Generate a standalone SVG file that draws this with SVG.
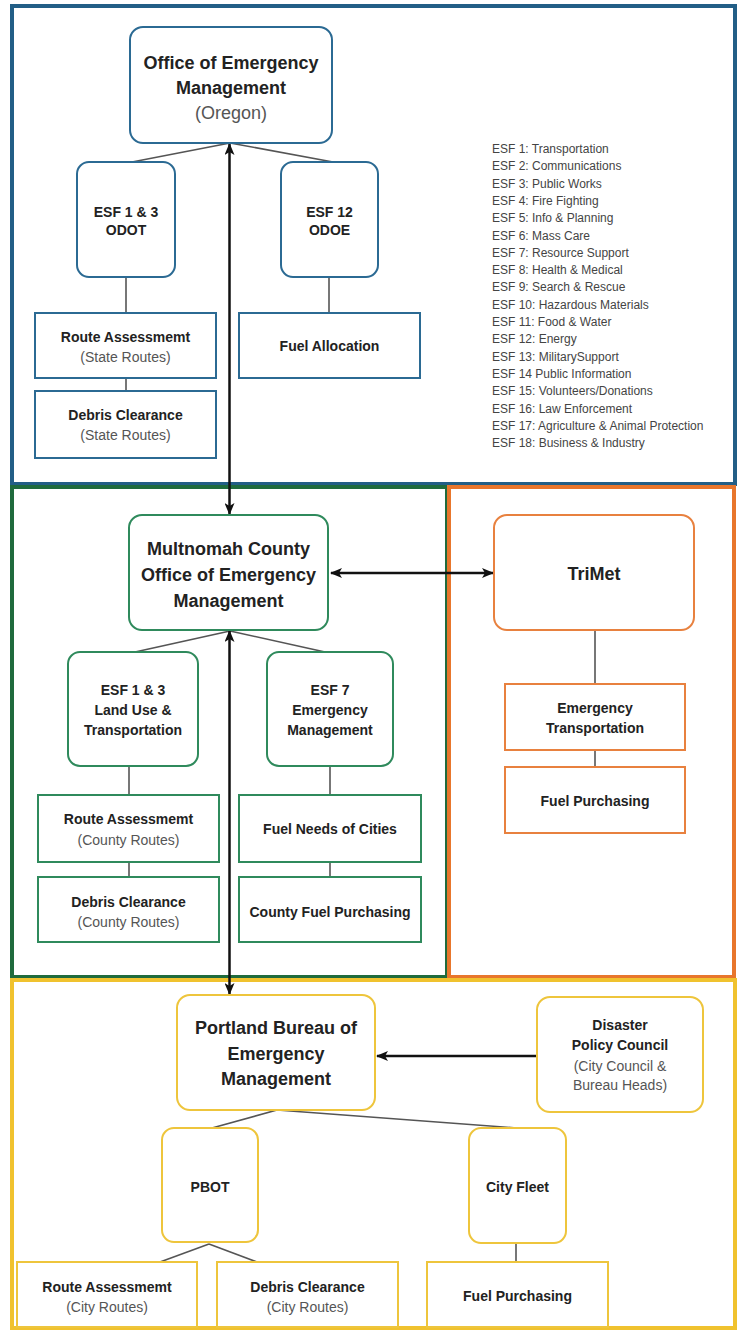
<svg xmlns="http://www.w3.org/2000/svg" width="740" height="1331" viewBox="0 0 740 1331">
<defs>
<marker id="ah" markerUnits="userSpaceOnUse" markerWidth="12" markerHeight="10" refX="11" refY="5" orient="auto-start-reverse">
<path d="M0,0 L12,5 L0,10 L3,5 Z" fill="#111"/>
</marker>
<style>
text{font-family:"Liberation Sans",Arial,sans-serif;text-anchor:middle;fill:#222}
.b{font-weight:bold}
.s{fill:#555;font-weight:normal}
.t18{font-size:18px}
.t14{font-size:14px}
.leg{font-size:12px;text-anchor:start;fill:#444}
.sec{fill:none;stroke-width:4}
.nb{fill:#fff;stroke:#2b6a93;stroke-width:2}
.ng{fill:#fff;stroke:#2f8a5c;stroke-width:2}
.no{fill:#fff;stroke:#e8813f;stroke-width:2}
.ny{fill:#fff;stroke:#eec53c;stroke-width:2}
.ln{stroke:#555;stroke-width:1.6;fill:none}
.ar{stroke:#111;stroke-width:2.5;fill:none}
</style>
</defs>

<g id="sections">
<rect class="sec" x="12" y="6" width="723" height="478" stroke="#225e86"/>
<rect class="sec" x="12" y="487" width="435" height="490" stroke="#1f6b3d"/>
<rect class="sec" x="449" y="487" width="285" height="490" stroke="#e8762c"/>
<rect class="sec" x="12" y="980" width="723" height="348" stroke="#f0c22e"/>
</g>

<g id="connectors">
<line class="ln" x1="230" y1="143" x2="132" y2="162"/>
<line class="ln" x1="230" y1="143" x2="333" y2="162"/>
<line class="ln" x1="126" y1="277" x2="126" y2="313"/>
<line class="ln" x1="126" y1="378" x2="126" y2="391"/>
<line class="ln" x1="329" y1="277" x2="329" y2="313"/>
<line class="ln" x1="230" y1="631" x2="135" y2="652"/>
<line class="ln" x1="230" y1="631" x2="325" y2="652"/>
<line class="ln" x1="129" y1="766" x2="129" y2="795"/>
<line class="ln" x1="129" y1="862" x2="129" y2="877"/>
<line class="ln" x1="330" y1="766" x2="330" y2="795"/>
<line class="ln" x1="330" y1="862" x2="330" y2="877"/>
<line class="ln" x1="595" y1="630" x2="595" y2="684"/>
<line class="ln" x1="595" y1="750" x2="595" y2="767"/>
<line class="ln" x1="277" y1="1110" x2="212" y2="1128"/>
<line class="ln" x1="277" y1="1110" x2="517" y2="1128"/>
<line class="ln" x1="209" y1="1244" x2="160" y2="1262"/>
<line class="ln" x1="209" y1="1244" x2="257" y2="1262"/>
<line class="ln" x1="516" y1="1243" x2="516" y2="1262"/>
<line class="ar" x1="229.5" y1="144" x2="229.5" y2="514" marker-start="url(#ah)" marker-end="url(#ah)"/>
<line class="ar" x1="229.5" y1="631" x2="229.5" y2="994" marker-start="url(#ah)" marker-end="url(#ah)"/>
<line class="ar" x1="331" y1="573" x2="493" y2="573" marker-start="url(#ah)" marker-end="url(#ah)"/>
<line class="ar" x1="537" y1="1056" x2="377" y2="1056" stroke-width="3.5" marker-end="url(#ah)"/>
</g>

<g id="legend">
<text class="leg" x="492" y="153">ESF 1: Transportation</text>
<text class="leg" x="492" y="170.3">ESF 2: Communications</text>
<text class="leg" x="492" y="187.6">ESF 3: Public Works</text>
<text class="leg" x="492" y="204.9">ESF 4: Fire Fighting</text>
<text class="leg" x="492" y="222.2">ESF 5: Info &amp; Planning</text>
<text class="leg" x="492" y="239.5">ESF 6: Mass Care</text>
<text class="leg" x="492" y="256.8">ESF 7: Resource Support</text>
<text class="leg" x="492" y="274.1">ESF 8: Health &amp; Medical</text>
<text class="leg" x="492" y="291.4">ESF 9: Search &amp; Rescue</text>
<text class="leg" x="492" y="308.7">ESF 10: Hazardous Materials</text>
<text class="leg" x="492" y="326">ESF 11: Food &amp; Water</text>
<text class="leg" x="492" y="343.3">ESF 12: Energy</text>
<text class="leg" x="492" y="360.6">ESF 13: MilitarySupport</text>
<text class="leg" x="492" y="377.9">ESF 14 Public Information</text>
<text class="leg" x="492" y="395.2">ESF 15: Volunteers/Donations</text>
<text class="leg" x="492" y="412.5">ESF 16: Law Enforcement</text>
<text class="leg" x="492" y="429.8">ESF 17: Agriculture &amp; Animal Protection</text>
<text class="leg" x="492" y="447.1">ESF 18: Business &amp; Industry</text>
</g>

<g id="oem-oregon">
<rect class="nb" x="130" y="27" width="202" height="116" rx="13"/>
<text class="b t18" x="231" y="68.5">Office of Emergency</text>
<text class="b t18" x="231" y="94">Management</text>
<text class="s t18" x="231" y="119">(Oregon)</text>
</g>
<g id="esf13-odot">
<rect class="nb" x="77" y="162" width="98" height="115" rx="12"/>
<text class="b t14" x="126" y="217">ESF 1 &amp; 3</text>
<text class="b t14" x="126" y="235">ODOT</text>
</g>
<g id="esf12-odoe">
<rect class="nb" x="281" y="162" width="97" height="115" rx="12"/>
<text class="b t14" x="329.5" y="217">ESF 12</text>
<text class="b t14" x="329.5" y="235">ODOE</text>
</g>
<g id="route-state">
<rect class="nb" x="35" y="313" width="181" height="65"/>
<text class="b t14" x="125.5" y="342">Route Assessmemt</text>
<text class="s t14" x="125.5" y="362">(State Routes)</text>
</g>
<g id="debris-state">
<rect class="nb" x="35" y="391" width="181" height="67"/>
<text class="b t14" x="125.5" y="420">Debris Clearance</text>
<text class="s t14" x="125.5" y="440">(State Routes)</text>
</g>
<g id="fuel-allocation">
<rect class="nb" x="239" y="313" width="181" height="65"/>
<text class="b t14" x="329.5" y="351">Fuel Allocation</text>
</g>

<g id="multnomah">
<rect class="ng" x="129" y="515" width="199" height="115" rx="13"/>
<text class="b t18" x="228.5" y="554.5">Multnomah County</text>
<text class="b t18" x="228.5" y="581">Office of Emergency</text>
<text class="b t18" x="228.5" y="606.5">Management</text>
</g>
<g id="esf13-landuse">
<rect class="ng" x="68" y="652" width="130" height="114" rx="12"/>
<text class="b t14" x="133" y="695">ESF 1 &amp; 3</text>
<text class="b t14" x="133" y="715">Land Use &amp;</text>
<text class="b t14" x="133" y="735">Transportation</text>
</g>
<g id="esf7">
<rect class="ng" x="267" y="652" width="126" height="114" rx="12"/>
<text class="b t14" x="330" y="695">ESF 7</text>
<text class="b t14" x="330" y="715">Emergency</text>
<text class="b t14" x="330" y="735">Management</text>
</g>
<g id="route-county">
<rect class="ng" x="38" y="795" width="181" height="67"/>
<text class="b t14" x="128.5" y="824">Route Assessmemt</text>
<text class="s t14" x="128.5" y="845">(County Routes)</text>
</g>
<g id="debris-county">
<rect class="ng" x="38" y="877" width="181" height="65"/>
<text class="b t14" x="128.5" y="907">Debris Clearance</text>
<text class="s t14" x="128.5" y="927">(County Routes)</text>
</g>
<g id="fuel-needs">
<rect class="ng" x="239" y="795" width="182" height="67"/>
<text class="b t14" x="330" y="834">Fuel Needs of Cities</text>
</g>
<g id="county-fuel">
<rect class="ng" x="239" y="877" width="182" height="65"/>
<text class="b t14" x="330" y="917">County Fuel Purchasing</text>
</g>

<g id="trimet">
<rect class="no" x="494" y="515" width="200" height="115" rx="13"/>
<text class="b t18" x="594" y="579.5">TriMet</text>
</g>
<g id="emergency-transportation">
<rect class="no" x="505" y="684" width="180" height="66"/>
<text class="b t14" x="595" y="713">Emergency</text>
<text class="b t14" x="595" y="733">Transportation</text>
</g>
<g id="fuel-purchasing-trimet">
<rect class="no" x="505" y="767" width="180" height="66"/>
<text class="b t14" x="595" y="806">Fuel Purchasing</text>
</g>

<g id="portland">
<rect class="ny" x="177" y="995" width="198" height="115" rx="13"/>
<text class="b t18" x="276" y="1034">Portland Bureau of</text>
<text class="b t18" x="276" y="1060">Emergency</text>
<text class="b t18" x="276" y="1085">Management</text>
</g>
<g id="disaster-council">
<rect class="ny" x="537" y="997" width="166" height="115" rx="13"/>
<text class="b t14" x="620" y="1030">Disaster</text>
<text class="b t14" x="620" y="1050">Policy Council</text>
<text class="s t14" x="620" y="1071">(City Council &amp;</text>
<text class="s t14" x="620" y="1090">Bureau Heads)</text>
</g>
<g id="pbot">
<rect class="ny" x="162" y="1128" width="96" height="114" rx="12"/>
<text class="b t14" x="210" y="1192">PBOT</text>
</g>
<g id="city-fleet">
<rect class="ny" x="469" y="1128" width="97" height="115" rx="12"/>
<text class="b t14" x="517.5" y="1192">City Fleet</text>
</g>
<g id="route-city">
<rect class="ny" x="17" y="1262" width="180" height="65"/>
<text class="b t14" x="107" y="1292">Route Assessmemt</text>
<text class="s t14" x="107" y="1312">(City Routes)</text>
</g>
<g id="debris-city">
<rect class="ny" x="217" y="1262" width="181" height="65"/>
<text class="b t14" x="307.5" y="1292">Debris Clearance</text>
<text class="s t14" x="307.5" y="1312">(City Routes)</text>
</g>
<g id="fuel-city">
<rect class="ny" x="427" y="1262" width="181" height="65"/>
<text class="b t14" x="517.5" y="1301">Fuel Purchasing</text>
</g>
</svg>
